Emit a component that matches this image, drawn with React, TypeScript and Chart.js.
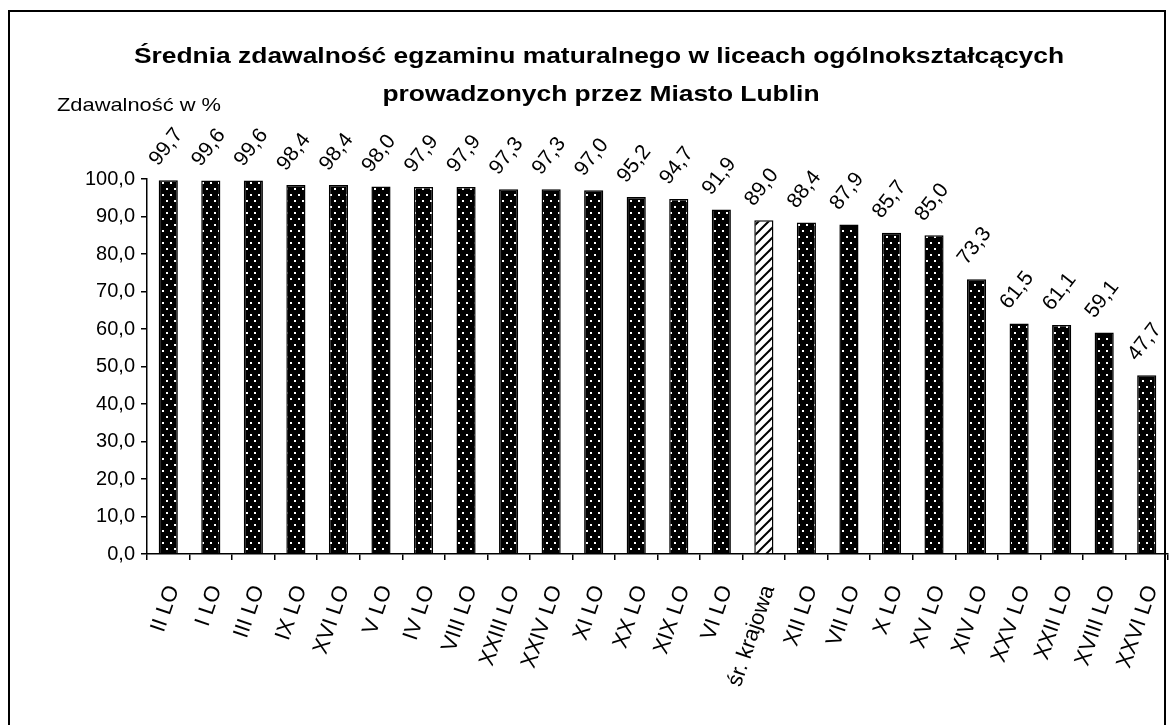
import { useEffect, useRef } from "react";
import { Chart, registerables } from "chart.js";
Chart.register(...registerables);

const categories = ["II LO","I LO","III LO","IX LO","XVI LO","V LO","IV LO","VIII LO","XXIII LO","XXIV LO","XI LO","XX LO","XIX LO","VI LO","śr. krajowa","XII LO","VII LO","X LO","XV LO","XIV LO","XXV LO","XXII LO","XVIII LO","XXVI LO"];
const passRates = [99.7,99.6,99.6,98.4,98.4,98.0,97.9,97.9,97.3,97.3,97.0,95.2,94.7,91.9,89.0,88.4,87.9,85.7,85.0,73.3,61.5,61.1,59.1,47.7];
const nationalAverageIndex = 14;
const titleLines = ["Średnia zdawalność egzaminu maturalnego w liceach ogólnokształcących", "prowadzonych przez Miasto Lublin"];
const yAxisLabel = "Zdawalność w %";

const FONT = "'Liberation Sans', Arial, sans-serif";
const fmt = (v: number) => v.toFixed(1).replace(".", ",");

function dotPattern(): CanvasPattern | string {
  const c = document.createElement("canvas");
  c.width = 8; c.height = 12;
  const g = c.getContext("2d")!;
  g.fillStyle = "#000";
  g.fillRect(0, 0, 8, 12);
  g.fillStyle = "#fff";
  g.fillRect(2, 2, 2, 2);
  g.fillRect(6, 8, 2, 2);
  return g.createPattern(c, "repeat") || "#000";
}
function hatchPattern(): CanvasPattern | string {
  const c = document.createElement("canvas");
  c.width = 10; c.height = 10;
  const g = c.getContext("2d")!;
  g.fillStyle = "#fff";
  g.fillRect(0, 0, 10, 10);
  g.strokeStyle = "#000";
  g.lineWidth = 2;
  g.beginPath();
  g.moveTo(-2, 12); g.lineTo(12, -2);
  g.moveTo(-7, 7); g.lineTo(7, -7);
  g.moveTo(3, 17); g.lineTo(17, 3);
  g.stroke();
  return g.createPattern(c, "repeat") || "#fff";
}

function stretchedText(ctx: CanvasRenderingContext2D, text: string, x: number, y: number, sx: number) {
  ctx.save();
  ctx.translate(x, y);
  ctx.scale(sx, 1);
  ctx.fillText(text, 0, 0);
  ctx.restore();
}

const decorPlugin = {
  id: "decor",
  beforeDraw(chart: any) {
    const ctx = chart.ctx;
    ctx.save();
    ctx.fillStyle = "#fff";
    ctx.fillRect(0, 0, chart.width, chart.height);
    ctx.strokeStyle = "#000";
    ctx.lineWidth = 2;
    ctx.beginPath();
    ctx.moveTo(9, 726); ctx.lineTo(9, 11); ctx.lineTo(1165, 11); ctx.lineTo(1165, 726);
    ctx.stroke();
    ctx.fillStyle = "#000";
    ctx.textAlign = "center";
    ctx.textBaseline = "middle";
    ctx.font = `bold 22px ${FONT}`;
    stretchedText(ctx, titleLines[0], 599, 57, 1.2);
    stretchedText(ctx, titleLines[1], 601, 95, 1.2);
    ctx.textAlign = "left";
    ctx.font = `19px ${FONT}`;
    stretchedText(ctx, yAxisLabel, 57, 106, 1.15);
    ctx.restore();
  },
  afterDatasetsDraw(chart: any) {
    const ctx = chart.ctx;
    const meta = chart.getDatasetMeta(0);
    ctx.save();
    ctx.fillStyle = "#000";
    ctx.font = `21px ${FONT}`;
    ctx.textAlign = "center";
    ctx.textBaseline = "middle";
    meta.data.forEach((bar: any, i: number) => {
      ctx.save();
      ctx.translate(bar.x - 2, bar.y - 33);
      ctx.rotate(-52 * Math.PI / 180);
      ctx.fillText(fmt(passRates[i]), 0, 0);
      ctx.restore();
    });
    ctx.restore();
  },
};

export default function App() {
  const ref = useRef<HTMLCanvasElement>(null);
  useEffect(() => {
    document.body.style.margin = "0";
    const dots = dotPattern();
    const hatch = hatchPattern();
    const chart = new Chart(ref.current!, {
      type: "bar",
      data: {
        labels: categories,
        datasets: [{
          data: passRates,
          backgroundColor: passRates.map((_, i) => (i === nationalAverageIndex ? hatch : dots)) as any,
          borderColor: "#000",
          borderWidth: 1.5,
          barPercentage: 0.45,
          categoryPercentage: 1,
        }],
      },
      options: {
        responsive: false,
        animation: false,
        devicePixelRatio: 1,
        layout: { padding: { top: 179, right: 5, left: 0, bottom: 0 } },
        plugins: { legend: { display: false }, title: { display: false }, tooltip: { enabled: false } },
        scales: {
          x: {
            afterFit: (s: any) => { s.height = 171; s.paddingLeft = 0; s.paddingRight = 0; },
            grid: { display: true, drawOnChartArea: false, color: "#000", tickLength: 6, offset: true, lineWidth: 1.5 },
            border: { display: true, color: "#000", width: 1.5 },
            ticks: { color: "#000", font: { family: FONT, size: 22 }, minRotation: 71, maxRotation: 71, autoSkip: false, padding: 22, labelOffset: 5 },
          },
          y: {
            min: 0, max: 100,
            afterFit: (s: any) => { s.width = 147; s.paddingTop = 0; s.paddingBottom = 0; },
            grid: { display: true, drawOnChartArea: false, color: "#000", tickLength: 6, lineWidth: 1.5 },
            border: { display: true, color: "#000", width: 1.5 },
            ticks: { stepSize: 10, color: "#000", font: { family: FONT, size: 20 }, padding: 6, callback: (v: any) => fmt(Number(v)) },
          },
        },
      },
      plugins: [decorPlugin],
    });
    return () => chart.destroy();
  }, []);
  return (
    <div style={{ position: "absolute", left: 0, top: 0, width: 1173, height: 725 }}>
      <canvas ref={ref} width={1173} height={725} style={{ display: "block" }} />
    </div>
  );
}
